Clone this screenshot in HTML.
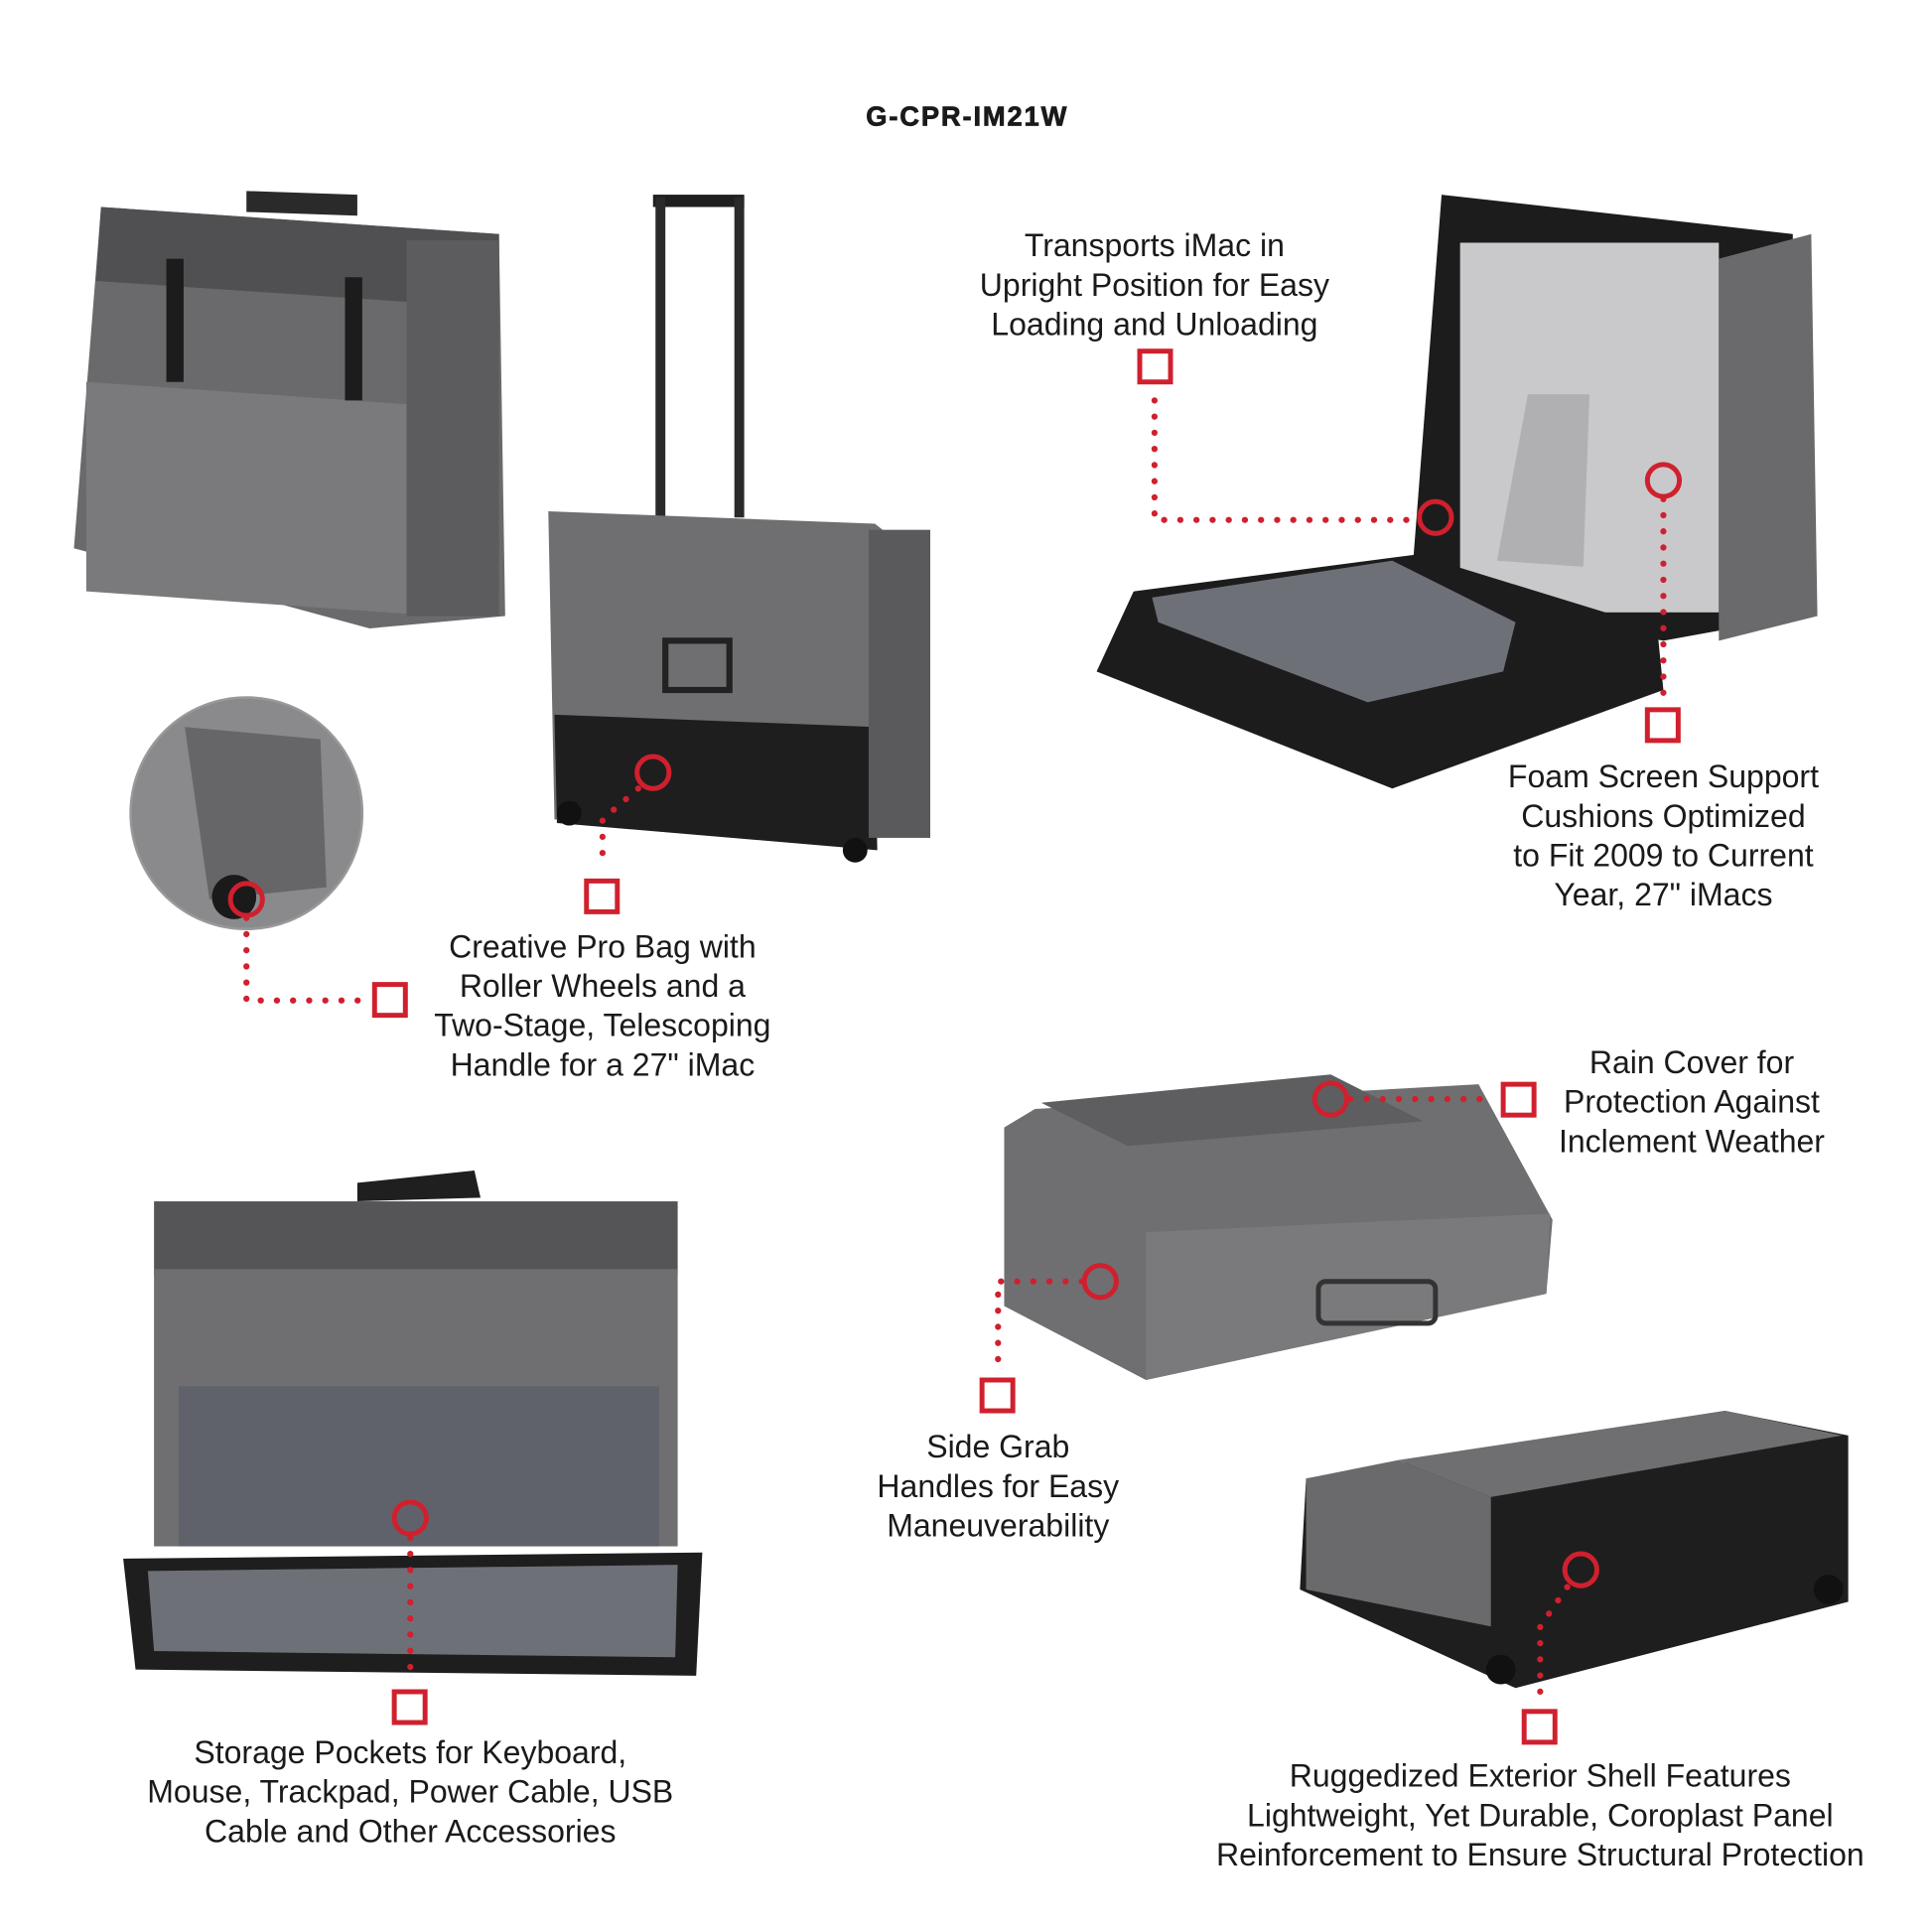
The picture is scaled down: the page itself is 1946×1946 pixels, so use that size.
<!DOCTYPE html>
<html><head><meta charset="utf-8"><style>
html,body{margin:0;padding:0;background:#fff;}
svg{display:block;}
text{font-family:"Liberation Sans",sans-serif;fill:#1a1a1a;}
</style></head><body>
<svg width="1946" height="1946" viewBox="0 0 1568 1568" xmlns="http://www.w3.org/2000/svg">
<rect width="1568" height="1568" fill="#fff"/>
<text x="785" y="102" font-size="22" font-weight="bold" text-anchor="middle" letter-spacing="1.5" stroke="#1a1a1a" stroke-width="0.6">G-CPR-IM21W</text>

<!-- Bag 1 top-left -->
<path d="M82 168 L405 190 L410 500 L300 510 L60 445 Z" fill="#6a6a6c"/>
<path d="M82 168 L405 190 L405 250 L78 228 Z" fill="#505052"/>
<rect x="70" y="315" width="262" height="170" fill="#7a7a7c" transform="skewY(4) translate(0,-10)"/>
<rect x="330" y="195" width="75" height="305" fill="#5c5c5e"/>
<path d="M200 155 L290 158 L290 175 L200 172 Z" fill="#2a2a2a"/>
<rect x="135" y="210" width="14" height="100" fill="#1c1c1c"/>
<rect x="280" y="225" width="14" height="100" fill="#1c1c1c"/>

<!-- Bag 2 rolling -->
<rect x="530" y="158" width="74" height="10" fill="#1f1f1f"/>
<rect x="532" y="160" width="8" height="260" fill="#2a2a2a"/>
<rect x="596" y="160" width="8" height="260" fill="#2a2a2a"/>
<path d="M445 415 L710 425 L755 460 L755 680 L450 665 Z" fill="#6f6f71"/>
<path d="M450 580 L710 590 L712 690 L452 668 Z" fill="#1e1e1e"/>
<rect x="705" y="430" width="50" height="250" fill="#5a5a5c"/>
<rect x="540" y="520" width="52" height="40" fill="none" stroke="#222" stroke-width="5"/>
<circle cx="462" cy="660" r="10" fill="#111"/><circle cx="694" cy="690" r="10" fill="#111"/>

<!-- circle inset -->
<circle cx="200" cy="660" r="94" fill="#8a8a8c" stroke="#999" stroke-width="2"/>
<path d="M150 590 L260 600 L265 720 L170 730 Z" fill="#666668"/>
<circle cx="190" cy="728" r="18" fill="#1a1a1a"/>

<!-- Bag 3 open -->
<path d="M1170 158 L1455 190 L1460 500 L1350 520 L1145 480 Z" fill="#1c1c1c"/>
<rect x="1185" y="197" width="210" height="300" fill="#c9c9cb"/>
<path d="M1240 320 L1290 320 L1285 460 L1215 455 Z" fill="#b0b0b2"/>
<path d="M1395 210 L1470 190 L1475 500 L1395 520 Z" fill="#6a6a6c"/>
<path d="M920 480 L1150 450 L1345 510 L1350 560 L1130 640 L890 545 Z" fill="#1c1c1c"/>
<path d="M935 485 L1130 455 L1230 505 L1220 545 L1110 570 L940 505 Z" fill="#6e7078"/>

<!-- Bag 4 middle -->
<path d="M815 915 L840 900 L1200 880 L1260 990 L1255 1050 L930 1120 L815 1060 Z" fill="#6f6f71"/>
<path d="M845 895 L1080 872 L1155 910 L915 930 Z" fill="#5e5e60"/>
<path d="M930 1000 L1258 985 L1255 1050 L930 1120 Z" fill="#7a7a7c"/>
<rect x="1070" y="1040" width="95" height="34" rx="6" fill="none" stroke="#333" stroke-width="4"/>

<!-- Bag 5 bottom-left -->
<path d="M290 960 L385 950 L390 972 L290 975 Z" fill="#1f1f1f"/>
<rect x="125" y="975" width="425" height="60" fill="#555557"/>
<rect x="125" y="1030" width="425" height="225" fill="#6f6f71"/>
<rect x="145" y="1125" width="390" height="130" fill="#60626b"/>
<path d="M100 1265 L570 1260 L565 1360 L110 1355 Z" fill="#1e1e1e"/>
<path d="M120 1275 L550 1270 L548 1345 L125 1340 Z" fill="#6e7078"/>

<!-- Bag 6 bottom-right -->
<path d="M1060 1200 L1400 1145 L1500 1165 L1500 1300 L1230 1370 L1055 1290 Z" fill="#1e1e1e"/>
<path d="M1060 1200 L1135 1185 L1210 1215 L1210 1320 L1060 1290 Z" fill="#6a6a6c"/>
<path d="M1135 1185 L1400 1145 L1495 1165 L1210 1215 Z" fill="#6f6f71"/>
<circle cx="1218" cy="1355" r="12" fill="#111"/><circle cx="1484" cy="1290" r="12" fill="#111"/>

<!-- markers -->
<g fill="none" stroke="#d0202e" stroke-width="4">
<rect x="925" y="285" width="25" height="25"/>
<circle cx="1165" cy="420" r="13"/>
<circle cx="1350" cy="390" r="13"/>
<rect x="1337" y="576" width="25" height="25"/>
<circle cx="530" cy="627" r="13"/>
<rect x="476" y="715" width="25" height="25"/>
<circle cx="200" cy="730" r="13"/>
<rect x="304" y="799" width="25" height="25"/>
<circle cx="1080" cy="892" r="13"/>
<rect x="1220" y="880" width="25" height="25"/>
<circle cx="893" cy="1040" r="13"/>
<rect x="797" y="1120" width="25" height="25"/>
<circle cx="333" cy="1232" r="13"/>
<rect x="320" y="1373" width="25" height="25"/>
<circle cx="1283" cy="1274" r="13"/>
<rect x="1237" y="1389" width="25" height="25"/>
</g>
<g fill="none" stroke="#d0202e" stroke-width="5" stroke-dasharray="0.1 13" stroke-linecap="round">
<path d="M937 325 L937 422 L1150 422"/>
<path d="M1350 405 L1350 565"/>
<path d="M518 640 L489 665 L489 705"/>
<path d="M200 745 L200 812 L295 812"/>
<path d="M1096 892 L1212 892"/>
<path d="M878 1040 L810 1040 L810 1112"/>
<path d="M333 1248 L333 1365"/>
<path d="M1272 1288 L1250 1320 L1250 1380"/>
</g>

<g font-size="25.8" text-anchor="middle">
<text x="937" y="208">Transports iMac in</text>
<text x="937" y="240">Upright Position for Easy</text>
<text x="937" y="272">Loading and Unloading</text>
<text x="1350" y="639">Foam Screen Support</text>
<text x="1350" y="671">Cushions Optimized</text>
<text x="1350" y="703">to Fit 2009 to Current</text>
<text x="1350" y="735">Year, 27" iMacs</text>
<text x="489" y="777">Creative Pro Bag with</text>
<text x="489" y="809">Roller Wheels and a</text>
<text x="489" y="841">Two-Stage, Telescoping</text>
<text x="489" y="873">Handle for a 27" iMac</text>
<text x="1373" y="871">Rain Cover for</text>
<text x="1373" y="903">Protection Against</text>
<text x="1373" y="935">Inclement Weather</text>
<text x="810" y="1183">Side Grab</text>
<text x="810" y="1215">Handles for Easy</text>
<text x="810" y="1247">Maneuverability</text>
<text x="333" y="1431">Storage Pockets for Keyboard,</text>
<text x="333" y="1463">Mouse, Trackpad, Power Cable, USB</text>
<text x="333" y="1495">Cable and Other Accessories</text>
<text x="1250" y="1450">Ruggedized Exterior Shell Features</text>
<text x="1250" y="1482">Lightweight, Yet Durable, Coroplast Panel</text>
<text x="1250" y="1514">Reinforcement to Ensure Structural Protection</text>
</g>
</svg>
</body></html>
